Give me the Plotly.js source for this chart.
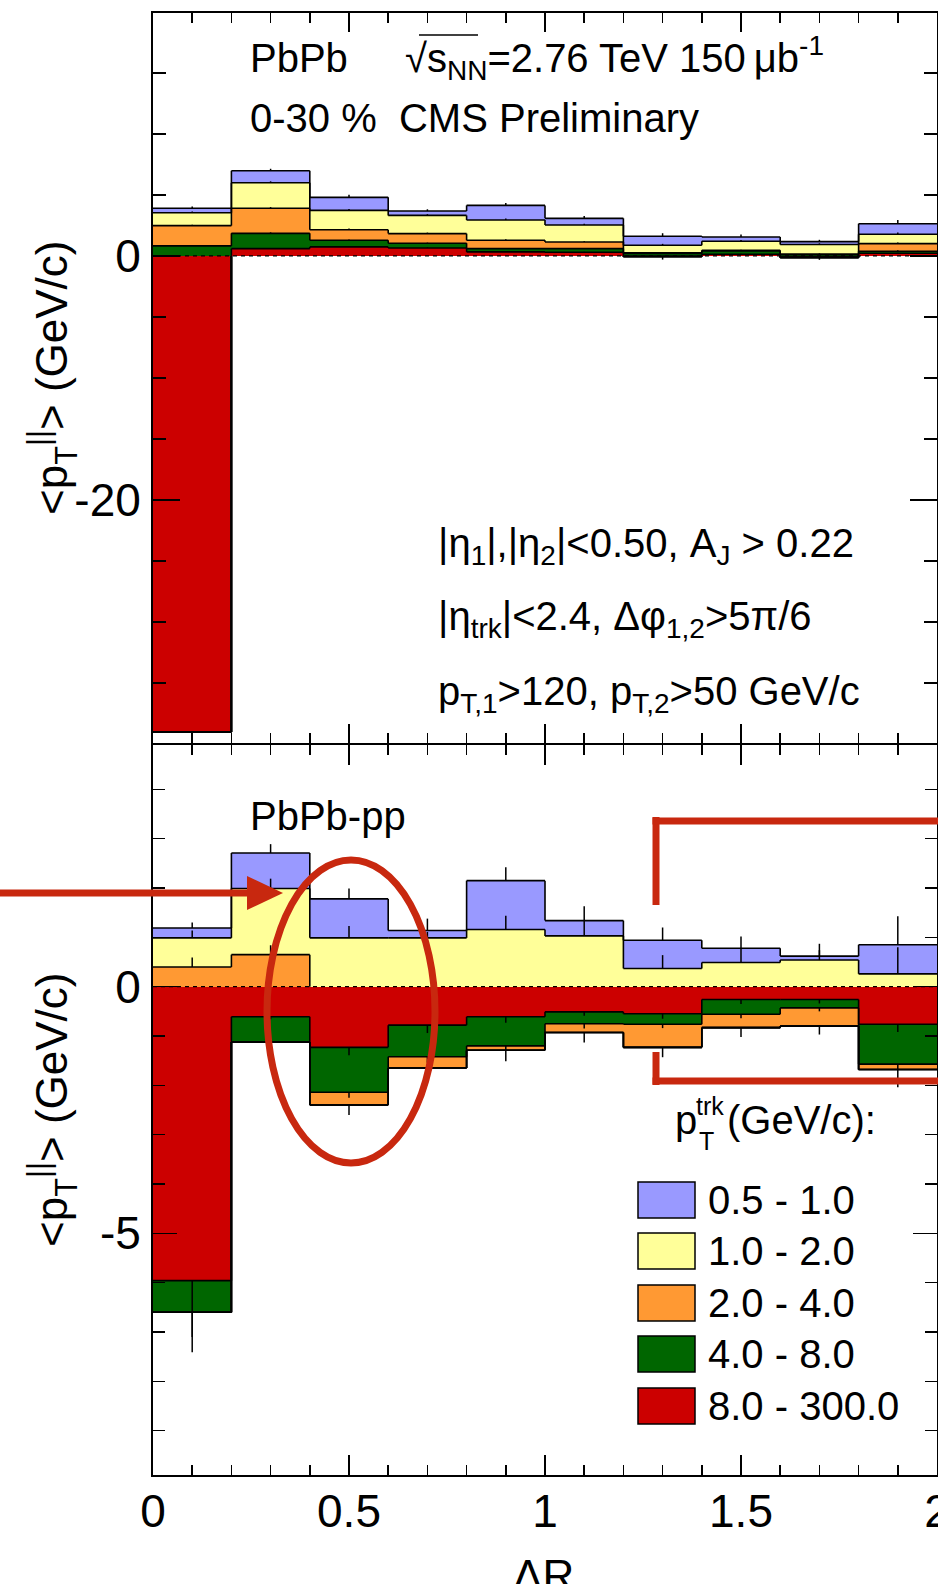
<!DOCTYPE html>
<html>
<head>
<meta charset="utf-8">
<script src="https://cdn.plot.ly/plotly-3.0.1.min.js"></script>
<style>
  html, body { margin: 0; padding: 0; background: #fff; overflow: hidden; }
  #chart { width: 938px; height: 1584px; }
</style>
</head>
<body>
<div id="chart"></div>
<script>
// Delta-R binning
const binCenters = [0.1, 0.3, 0.5, 0.7, 0.9, 1.1, 1.3, 1.5, 1.7, 1.9];
const binEdges   = [0, 0.2, 0.4, 0.6, 0.8, 1.0, 1.2, 1.4, 1.6, 1.8, 2.0];

// track pT classes (legend order, top to bottom)
const ptClasses = ['0.5 - 1.0', '1.0 - 2.0', '2.0 - 4.0', '4.0 - 8.0', '8.0 - 300.0'];
const ptColors  = ['#9999ff', '#ffff99', '#ff9933', '#006600', '#cc0000'];

// PbPb, 0-30 %: <pT||> (GeV/c) per pT class
const pbpb_05_1  = [0.36, 0.99, 1.07, 0.36, 1.20, 0.55, 0.74, 0.35, 0.24, 0.87];
const pbpb_1_2   = [1.06, 2.09, 1.58, 1.49, 1.66, 1.39, 0.62, 0.74, 0.77, 0.76];
const pbpb_2_4   = [1.66, 2.05, 0.87, 0.79, 0.68, 0.54, 0.05, 0.05, 0.06, 0.63];
const pbpb_4_8   = [0.82, 1.25, 0.54, 0.39, 0.27, 0.30, 0.20, 0.27, 0.10, 0.16];
const pbpb_8_300 = [-39.0, 0.60, 0.74, 0.65, 0.33, 0.30, -0.05, 0.14, -0.12, 0.22];

// PbPb statistical uncertainties
const pbpbErr_05_1  = [0.14, 0.16, 0.22, 0.14, 0.20, 0.20, 0.25, 0.20, 0.15, 0.30];
const pbpbErr_1_2   = [0.10, 0.12, 0.12, 0.10, 0.12, 0.10, 0.12, 0.10, 0.10, 0.15];
const pbpbErr_2_4   = [0.08, 0.10, 0.10, 0.08, 0.08, 0.06, 0.05, 0.05, 0.05, 0.10];
const pbpbErr_4_8   = [0.08, 0.08, 0.06, 0.05, 0.05, 0.05, 0.05, 0.05, 0.05, 0.08];
const pbpbErr_8_300 = [0.30, 0.05, 0.05, 0.05, 0.04, 0.04, 0.25, 0.04, 0.20, 0.05];

// PbPb - pp difference per pT class
const diff_05_1  = [0.20, 0.72, 0.79, 0.15, 0.99, 0.31, 0.57, 0.29, 0.08, 0.59];
const diff_1_2   = [0.59, 1.34, 0.99, 0.99, 1.16, 1.03, 0.37, 0.49, 0.54, 0.26];
const diff_2_4   = [0.40, 0.65, -0.26, -0.23, -0.09, -0.18, -0.47, -0.27, -0.37, -0.11];
const diff_4_8   = [-0.64, -0.51, -0.91, -0.64, -0.59, -0.24, -0.21, -0.30, -0.17, -0.81];
const diff_8_300 = [-5.96, -0.61, -1.23, -0.78, -0.61, -0.51, -0.55, -0.26, -0.26, -0.76];

// PbPb - pp statistical uncertainties
const diffErr_05_1  = [0.11, 0.18, 0.21, 0.24, 0.27, 0.29, 0.26, 0.24, 0.25, 0.58];
const diffErr_1_2   = [0.15, 0.20, 0.24, 0.12, 0.28, 0.32, 0.27, 0.29, 0.20, 0.54];
const diffErr_2_4   = [0.19, 0.19, 0.20, 0.15, 0.22, 0.20, 0.20, 0.19, 0.17, 0.36];
const diffErr_4_8   = [0.50, 0.05, 0.11, 0.12, 0.10, 0.10, 0.08, 0.08, 0.07, 0.10];
const diffErr_8_300 = [1.45, 0.05, 0.16, 0.16, 0.12, 0.08, 0.10, 0.09, 0.08, 0.16];

const pbpbValues = [pbpb_05_1, pbpb_1_2, pbpb_2_4, pbpb_4_8, pbpb_8_300];
const pbpbErrors = [pbpbErr_05_1, pbpbErr_1_2, pbpbErr_2_4, pbpbErr_4_8, pbpbErr_8_300];
const diffValues = [diff_05_1, diff_1_2, diff_2_4, diff_4_8, diff_8_300];
const diffErrors = [diffErr_05_1, diffErr_1_2, diffErr_2_4, diffErr_4_8, diffErr_8_300];

// highest-pT class sits next to zero, lowest on the outside
const stackOrder = [4, 3, 2, 1, 0];

const FONT = 'Liberation Sans, Arial, Helvetica, sans-serif';
const MARK = '#c8280f';

// page geometry of the plotting area (pixels)
const L = 153, T = 13, W = 784, H = 1462;
const px = x => (x - L) / W;
const py = y => (T + H - y) / H;

function panelTraces(values, errors, xa, ya) {
  const traces = [];
  const n = binCenters.length;
  const pos = new Array(n).fill(0);
  const neg = new Array(n).fill(0);
  const outX = [], outY = [];
  const errX = [], errY = [], errUp = [], errDn = [];

  // step outline of one cumulative level, skipping stretches lying on zero
  function addOutline(level) {
    for (let i = 0; i < n; i++) {
      if (level[i] !== 0) {
        outX.push(binEdges[i], binEdges[i + 1], null);
        outY.push(level[i], level[i], null);
      }
      if (i < n - 1 && level[i] !== level[i + 1]) {
        outX.push(binEdges[i + 1], binEdges[i + 1], null);
        outY.push(level[i], level[i + 1], null);
      }
    }
  }

  for (const k of stackOrder) {
    traces.push({
      type: 'bar', x: binCenters, y: values[k], width: 0.2,
      xaxis: xa, yaxis: ya, name: ptClasses[k],
      marker: { color: ptColors[k], line: { width: 0 } },
      showlegend: false, hoverinfo: 'skip'
    });
    for (let i = 0; i < n; i++) {
      const v = values[k][i];
      if (v >= 0) {
        pos[i] += v;
        errY.push(pos[i]); errUp.push(errors[k][i]); errDn.push(0);
      } else {
        neg[i] += v;
        errY.push(neg[i]); errUp.push(0); errDn.push(errors[k][i]);
      }
      errX.push(binCenters[i]);
    }
    addOutline(pos.slice());
    addOutline(neg.slice());
  }

  traces.push({
    type: 'scatter', mode: 'markers', x: errX, y: errY, xaxis: xa, yaxis: ya,
    marker: { size: 1, color: 'rgba(0,0,0,0)' },
    error_y: { type: 'data', symmetric: false, array: errUp, arrayminus: errDn,
               color: '#000', thickness: 1.5, width: 0 },
    showlegend: false, hoverinfo: 'skip'
  });
  traces.push({
    type: 'scatter', mode: 'lines', x: outX, y: outY, xaxis: xa, yaxis: ya,
    line: { color: '#000', width: 1.6 }, connectgaps: false,
    showlegend: false, hoverinfo: 'skip'
  });
  return traces;
}

const data = [].concat(
  panelTraces(pbpbValues, pbpbErrors, 'x', 'y'),
  panelTraces(diffValues, diffErrors, 'x2', 'y2')
);

const frame = {
  showline: true, linecolor: '#000', linewidth: 2, mirror: 'allticks',
  showgrid: false, zeroline: false, ticks: 'inside', tickcolor: '#000',
  tickwidth: 1.5, fixedrange: true, ticklabeloverflow: 'allow'
};
const tickFont = { family: FONT, size: 46, color: '#000' };
const gap = 1 / H;   // the two frames share one border line

const layout = {
  width: 938, height: 1584,
  margin: { l: L, r: 938 - L - W, t: T, b: 1584 - T - H },
  paper_bgcolor: '#fff', plot_bgcolor: '#fff',
  barmode: 'relative', bargap: 0,
  showlegend: false,
  xaxis: Object.assign({}, frame, {
    domain: [0, 1], anchor: 'y', range: [0, 2],
    tickmode: 'linear', tick0: 0, dtick: 0.5, ticklen: 19, showticklabels: false,
    minor: { tickmode: 'linear', tick0: 0, dtick: 0.1, ticks: 'inside', ticklen: 10, tickwidth: 1.5, tickcolor: '#000' }
  }),
  xaxis2: Object.assign({}, frame, {
    domain: [0, 1], anchor: 'y2', range: [0, 2],
    tickmode: 'array', tickvals: [0, 0.5, 1, 1.5, 2], ticktext: ['0', '0.5', '1', '1.5', '2'],
    ticklen: 20, tickfont: tickFont, ticklabelstandoff: -5,
    minor: { tickmode: 'linear', tick0: 0, dtick: 0.1, ticks: 'inside', ticklen: 10, tickwidth: 1.5, tickcolor: '#000' }
  }),
  yaxis: Object.assign({}, frame, {
    domain: [0.5 + gap, 1], anchor: 'x', range: [-39.9, 19.9],
    tickmode: 'array', tickvals: [-20, 0], ticktext: ['-20', '0'],
    ticklen: 27, tickfont: tickFont, ticklabelstandoff: 1,
    minor: { tickmode: 'linear', tick0: 0, dtick: 5, ticks: 'inside', ticklen: 13, tickwidth: 1.5, tickcolor: '#000' }
  }),
  yaxis2: Object.assign({}, frame, {
    domain: [0, 0.5 - gap], anchor: 'x2', range: [-9.9, 4.9],
    tickmode: 'array', tickvals: [-5, 0], ticktext: ['-5', '0'],
    ticklen: 24, tickfont: tickFont, ticklabelstandoff: 1,
    minor: { tickmode: 'linear', tick0: 0, dtick: 1, ticks: 'inside', ticklen: 12, tickwidth: 1.5, tickcolor: '#000' }
  }),
  shapes: [],
  annotations: []
};

// dashed zero reference in both panels
[['x', 'y'], ['x2', 'y2']].forEach(([xr, yr]) => {
  layout.shapes.push({
    type: 'line', xref: xr, yref: yr, x0: 0, x1: 2, y0: 0, y1: 0, layer: 'above',
    line: { color: '#000', width: 1.2, dash: '4px,4px' }
  });
});

function note(text, xPix, yPix, size, extra) {
  return Object.assign({
    text: text, xref: 'paper', yref: 'paper', x: px(xPix), y: py(yPix),
    xanchor: 'left', yanchor: 'middle', showarrow: false,
    font: { family: FONT, size: size, color: '#000' }
  }, extra || {});
}

const A = layout.annotations;
A.push(note('PbPb', 248, 58, 40));
A.push(note('√s<sub>NN</sub>=2.76 TeV 150\u2009μb<sup>-1</sup>', 403, 58, 40));
A.push(note('0-30 %\u00a0\u00a0CMS Preliminary', 248, 118, 40));
A.push(note('|η<sub>1</sub>|,|η<sub>2</sub>|&lt;0.50, A<sub>J</sub> &gt; 0.22', 436, 546, 40));
A.push(note('|η<sub>trk</sub>|&lt;2.4, Δφ<sub>1,2</sub>&gt;5π/6', 436, 619, 40));
A.push(note('p<sub>T,1</sub>&gt;120, p<sub>T,2</sub>&gt;50 GeV/c', 436, 694, 40));
A.push(note('PbPb-pp', 248, 816, 40));

// legend header: p with stacked trk / T indices
A.push(note('p', 673, 1120, 40));
A.push(note('trk', 694, 1106, 25));
A.push(note('T', 697, 1141, 25));
A.push(note('(GeV/c):', 725, 1120, 40));

// legend entries
const legendTop = [1182, 1233, 1285, 1336, 1388];
ptClasses.forEach((label, k) => {
  layout.shapes.push({
    type: 'rect', xref: 'paper', yref: 'paper',
    x0: px(638), x1: px(695), y0: py(legendTop[k]), y1: py(legendTop[k] + 36),
    fillcolor: ptColors[k], line: { color: '#000', width: 1.5 }, layer: 'above'
  });
  A.push(note(label, 706, legendTop[k] + 18, 40));
});

// axis titles
const yTitle = '&lt;p<sub>T</sub><sup>||</sup>&gt; (GeV/c)';
A.push(note(yTitle, 52, 378, 44, { xanchor: 'center', textangle: -90 }));
A.push(note(yTitle, 52, 1110, 44, { xanchor: 'center', textangle: -90 }));
A.push(note('ΔR', 543, 1549, 44, { xanchor: 'center', yanchor: 'top' }));

// overbar of the square root
layout.shapes.push({
  type: 'line', xref: 'paper', yref: 'paper',
  x0: px(419), x1: px(478), y0: py(35), y1: py(35),
  line: { color: '#000', width: 1.5 }
});

// highlight marks: arrow, ellipse and bracket
layout.shapes.push({
  type: 'line', xref: 'paper', yref: 'paper',
  x0: px(0), x1: px(252), y0: py(893), y1: py(893),
  line: { color: MARK, width: 7 }, layer: 'above'
});
layout.shapes.push({
  type: 'path', xref: 'paper', yref: 'paper', layer: 'above',
  path: 'M ' + px(247) + ' ' + py(876) + ' L ' + px(283) + ' ' + py(893) +
        ' L ' + px(247) + ' ' + py(910) + ' Z',
  fillcolor: MARK, line: { width: 0 }
});
layout.shapes.push({
  type: 'circle', xref: 'paper', yref: 'paper', layer: 'above',
  x0: px(267), x1: px(435), y0: py(860), y1: py(1163),
  line: { color: MARK, width: 7 }
});
[[656, 817, 656, 905], [656, 1052, 656, 1085], [652.5, 821, 945, 821], [652.5, 1081, 945, 1081]]
  .forEach(([x0, y0, x1, y1]) => {
    layout.shapes.push({
      type: 'line', xref: 'paper', yref: 'paper', layer: 'above',
      x0: px(x0), x1: px(x1), y0: py(y0), y1: py(y1),
      line: { color: MARK, width: 7 }
    });
  });

Plotly.newPlot('chart', data, layout, { displayModeBar: false, staticPlot: true });
</script>
</body>
</html>
